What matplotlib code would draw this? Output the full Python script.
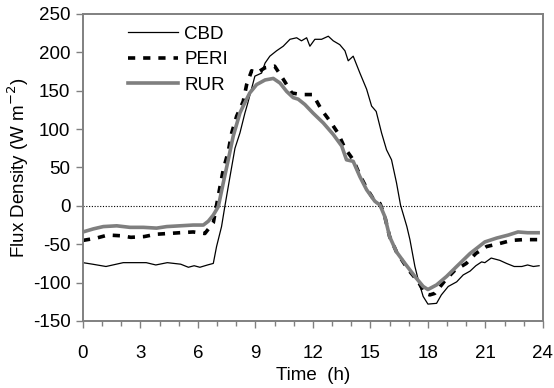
import matplotlib

matplotlib.use("Agg")
import matplotlib.pyplot as plt
from matplotlib.ticker import MultipleLocator

plt.rcParams["font.family"] = ["Liberation Sans", "DejaVu Sans"]
plt.rcParams["axes.unicode_minus"] = False

# CBD (thin black line)
cbd_time = [0.0, 0.5, 1.2, 2.1, 3.3, 3.8, 4.4, 5.1, 5.5, 5.8, 6.1, 6.5, 6.8,
            6.97, 7.23, 7.4, 7.67, 7.93, 8.19, 8.45, 8.6, 8.97, 9.32, 9.5, 9.75,
            10.1, 10.45, 10.8, 11.15, 11.4, 11.67, 11.84, 12.1, 12.45, 12.8,
            13.06, 13.4, 13.67, 13.84, 14.1, 14.45, 14.8, 15.06, 15.3, 15.58,
            15.84, 16.1, 16.36, 16.57, 16.9, 17.06, 17.32, 17.5, 17.75, 18.0,
            18.45, 18.7, 19.06, 19.5, 19.84, 20.2, 20.5, 20.8, 20.97, 21.3,
            21.75, 22.1, 22.5, 22.9, 23.2, 23.5, 23.8]
cbd_flux = [-74, -76, -79, -74, -74, -77, -74, -76, -80, -78, -80, -77, -75,
            -53, -27, -1, 38, 75, 95, 121, 134, 169, 173, 186, 195,
            202, 208, 217, 219, 215, 219, 208, 217, 217, 221,
            215, 210, 202, 189, 195, 173, 152, 130, 123, 95,
            73, 60, 30, 1, -27, -44, -79, -97, -118, -128,
            -127, -116, -105, -99, -90, -85, -78, -73, -74, -68,
            -71, -75, -79, -79, -77, -79, -78]

# PERI (thick dashed black line)
peri_time = [0.0, 0.7, 1.3, 2.0, 2.5, 3.2, 3.8, 4.45, 5.06, 5.75, 6.36, 6.8,
             7.15, 7.32, 7.58, 7.76, 8.02, 8.36, 8.54, 8.8, 9.06, 9.5, 10.0,
             10.45, 10.9, 11.4, 12.0, 12.45, 12.9, 13.3, 13.67, 14.1, 14.45,
             14.8, 15.15, 15.5, 15.75, 16.0, 16.36, 16.97, 17.5, 17.84, 18.1,
             18.36, 18.9, 19.4, 20.0, 20.5, 21.06, 21.75, 22.36, 22.97, 23.58,
             23.8]
peri_flux = [-45, -42, -38, -39, -41, -40, -37, -36, -35, -34, -36, -22,
             25, 47, 71, 95, 117, 136, 158, 176, 173, 180, 182,
             165, 147, 145, 145, 125, 110, 95, 75, 60, 40,
             23, 9, 3, -14, -40, -60, -83, -99, -114, -116,
             -114, -97, -84, -75, -62, -53, -49, -45, -44, -44,
             -44]

# RUR (thick grey line)
rur_time = [0.0, 0.54, 1.06, 1.76, 2.45, 3.15, 3.84, 4.37, 5.06, 5.75, 6.28,
            6.54, 6.8, 7.06, 7.32, 7.58, 7.84, 8.19, 8.36, 8.7, 9.06, 9.5,
            9.93, 10.28, 10.63, 10.97, 11.23, 11.58, 12.0, 12.54, 13.06, 13.5,
            13.75, 14.1, 14.45, 14.8, 15.23, 15.5, 15.75, 16.0, 16.36, 16.8,
            17.32, 17.75, 18.0, 18.45, 18.97, 19.5, 20.2, 20.97, 21.58, 22.2,
            22.7, 23.2, 23.75]
rur_flux = [-34, -30, -27, -26, -28, -28, -29, -27, -26, -25, -25,
            -20, -12, -1, 30, 60, 91, 121, 130, 147, 158, 164,
            166, 160, 149, 141, 139, 132, 121, 108, 93, 78,
            60, 58, 38, 21, 6, 1, -14, -40, -60, -75,
            -92, -105, -109, -103, -92, -79, -62, -47, -42, -38,
            -34, -35, -35]

fig = plt.figure(figsize=(5.54, 3.88), dpi=100)
ax = fig.add_axes([0.1498, 0.1727, 0.8302, 0.7913])

ax.plot(cbd_time, cbd_flux, color="black", lw=0.9, label="CBD")
ax.plot(peri_time, peri_flux, color="black", lw=2.6, dashes=(2.0, 2.2), label="PERI")
ax.plot(rur_time, rur_flux, color="#7f7f7f", lw=2.6, label="RUR")
ax.axhline(0, color="black", lw=0.8, ls=(0, (1, 1.5)), zorder=0)

ax.set_xlim(0, 24)
ax.set_ylim(-150, 250)
ax.xaxis.set_major_locator(MultipleLocator(3))
ax.xaxis.set_minor_locator(MultipleLocator(1))
ax.yaxis.set_major_locator(MultipleLocator(50))

# grey frame, outward ticks
for s in ax.spines.values():
    s.set_color("#808080")
    s.set_linewidth(1.4)
ax.tick_params(which="major", direction="out", length=5, width=1, color="#808080",
               labelsize=13.5)
ax.tick_params(axis="x", which="major", pad=12)
ax.tick_params(axis="y", which="major", pad=4)
ax.tick_params(which="minor", direction="out", length=3.5, width=1, color="#808080")

ax.set_xlabel("Time  (h)", fontsize=13.5, labelpad=4)
ax.set_ylabel("Flux Density (W m$^{-2}$)", fontsize=13.5, labelpad=1)

ax.legend(loc="upper left", bbox_to_anchor=(0.098, 0.962), frameon=False,
          fontsize=13.5, borderpad=0, borderaxespad=0, handlelength=2.67,
          handletextpad=0.32, labelspacing=0.45)

fig.savefig("out.png", dpi=100)
